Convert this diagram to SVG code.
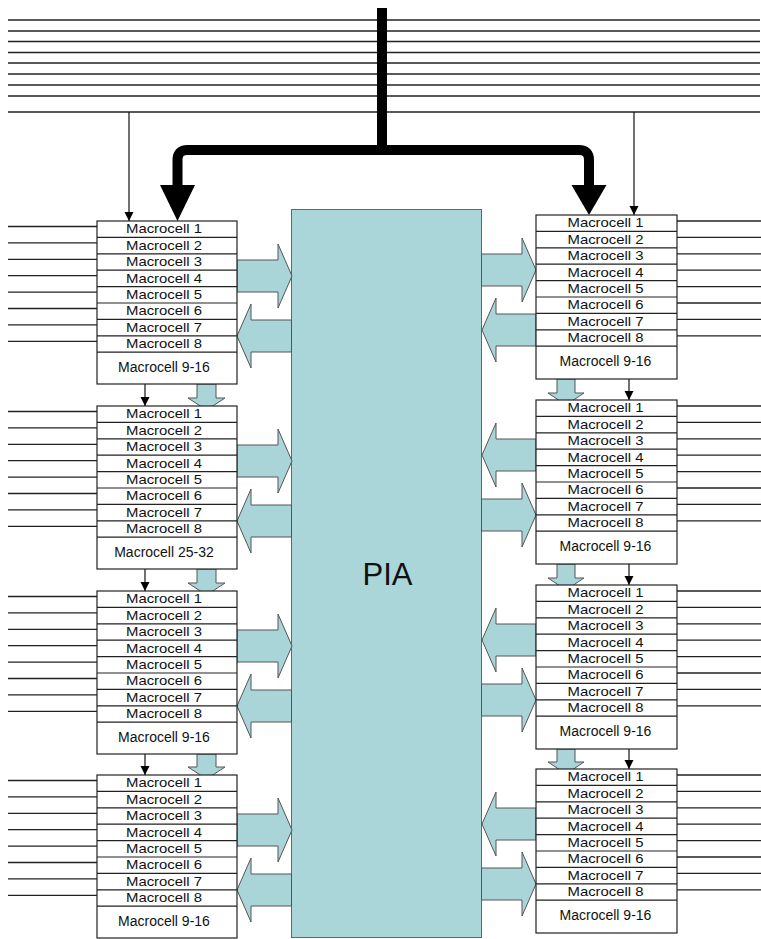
<svg xmlns="http://www.w3.org/2000/svg" width="761" height="939" viewBox="0 0 761 939">
<defs>
<style>
.bg{fill:#ffffff}
.ln{stroke:#222;stroke-width:1.3;fill:none}
.thin{stroke:#111;stroke-width:1.2;fill:none}
.bus{stroke:#000;stroke-width:10;fill:none}
.fat{fill:#a9d5d9;stroke:#555;stroke-width:1}
.blk{fill:#fff;stroke:#222;stroke-width:1.2}
.sep{stroke:#222;stroke-width:1.2}
.pia{fill:#aad6da;stroke:#666;stroke-width:1}
text{font-family:"Liberation Sans",Arial,sans-serif;fill:#111;text-anchor:middle}
.r{font-size:13px}
.f{font-size:14px}
.big{font-size:31px}
</style>
<marker id="ah" viewBox="0 0 10 10" refX="10" refY="5" markerWidth="9" markerHeight="10" orient="auto" markerUnits="userSpaceOnUse"><path d="M0,0 L10,5 L0,10 z" fill="#000"/></marker>
</defs>
<rect class="bg" x="0" y="0" width="761" height="939"/>

<g id="pia">
<rect class="pia" x="291.5" y="209.5" width="190" height="728"/>
<text class="big" x="387.5" y="585">PIA</text>
</g>

<g id="connectors">
<!-- top bus lines -->
<g class="ln">
<line x1="8" y1="20" x2="760" y2="20"/>
<line x1="8" y1="31" x2="760" y2="31"/>
<line x1="8" y1="41.5" x2="760" y2="41.5"/>
<line x1="8" y1="52.5" x2="760" y2="52.5"/>
<line x1="8" y1="63" x2="760" y2="63"/>
<line x1="8" y1="74" x2="760" y2="74"/>
<line x1="8" y1="85" x2="760" y2="85"/>
<line x1="8" y1="96" x2="760" y2="96"/>
<line x1="8" y1="112" x2="760" y2="112"/>
</g>
<!-- thick bus -->
<path class="bus" d="M382,8 V150"/>
<path class="bus" d="M177.5,186 V160 Q177.5,150 187.5,150 H579 Q589,150 589,160 V186"/>
<polygon points="160,185 195,185 177.5,221" fill="#000"/>
<polygon points="571.5,185 606.5,185 589,215" fill="#000"/>
<!-- top thin drops -->
<line class="thin" x1="129" y1="112" x2="129" y2="221" marker-end="url(#ah)"/>
<line class="thin" x1="634" y1="112" x2="634" y2="215" marker-end="url(#ah)"/>

<!-- left side lines -->
<g class="ln">
<g transform="translate(0,221)">
<line x1="8" y1="5.5" x2="97" y2="5.5"/><line x1="8" y1="21.9" x2="97" y2="21.9"/><line x1="8" y1="38.3" x2="97" y2="38.3"/><line x1="8" y1="54.7" x2="97" y2="54.7"/><line x1="8" y1="71.1" x2="97" y2="71.1"/><line x1="8" y1="87.5" x2="97" y2="87.5"/><line x1="8" y1="103.9" x2="97" y2="103.9"/><line x1="8" y1="120.3" x2="97" y2="120.3"/>
</g>
<g transform="translate(0,406)">
<line x1="8" y1="5.5" x2="97" y2="5.5"/><line x1="8" y1="21.9" x2="97" y2="21.9"/><line x1="8" y1="38.3" x2="97" y2="38.3"/><line x1="8" y1="54.7" x2="97" y2="54.7"/><line x1="8" y1="71.1" x2="97" y2="71.1"/><line x1="8" y1="87.5" x2="97" y2="87.5"/><line x1="8" y1="103.9" x2="97" y2="103.9"/><line x1="8" y1="120.3" x2="97" y2="120.3"/>
</g>
<g transform="translate(0,591)">
<line x1="8" y1="5.5" x2="97" y2="5.5"/><line x1="8" y1="21.9" x2="97" y2="21.9"/><line x1="8" y1="38.3" x2="97" y2="38.3"/><line x1="8" y1="54.7" x2="97" y2="54.7"/><line x1="8" y1="71.1" x2="97" y2="71.1"/><line x1="8" y1="87.5" x2="97" y2="87.5"/><line x1="8" y1="103.9" x2="97" y2="103.9"/><line x1="8" y1="120.3" x2="97" y2="120.3"/>
</g>
<g transform="translate(0,775)">
<line x1="8" y1="5.5" x2="97" y2="5.5"/><line x1="8" y1="21.9" x2="97" y2="21.9"/><line x1="8" y1="38.3" x2="97" y2="38.3"/><line x1="8" y1="54.7" x2="97" y2="54.7"/><line x1="8" y1="71.1" x2="97" y2="71.1"/><line x1="8" y1="87.5" x2="97" y2="87.5"/><line x1="8" y1="103.9" x2="97" y2="103.9"/><line x1="8" y1="120.3" x2="97" y2="120.3"/>
</g>
<!-- right side lines -->
<g transform="translate(0,215)">
<line x1="677" y1="6" x2="761" y2="6"/><line x1="677" y1="22.4" x2="761" y2="22.4"/><line x1="677" y1="38.8" x2="761" y2="38.8"/><line x1="677" y1="55.2" x2="761" y2="55.2"/><line x1="677" y1="71.6" x2="761" y2="71.6"/><line x1="677" y1="88" x2="761" y2="88"/><line x1="677" y1="104.4" x2="761" y2="104.4"/><line x1="677" y1="120.8" x2="761" y2="120.8"/>
</g>
<g transform="translate(0,400)">
<line x1="677" y1="6" x2="761" y2="6"/><line x1="677" y1="22.4" x2="761" y2="22.4"/><line x1="677" y1="38.8" x2="761" y2="38.8"/><line x1="677" y1="55.2" x2="761" y2="55.2"/><line x1="677" y1="71.6" x2="761" y2="71.6"/><line x1="677" y1="88" x2="761" y2="88"/><line x1="677" y1="104.4" x2="761" y2="104.4"/><line x1="677" y1="120.8" x2="761" y2="120.8"/>
</g>
<g transform="translate(0,585)">
<line x1="677" y1="6" x2="761" y2="6"/><line x1="677" y1="22.4" x2="761" y2="22.4"/><line x1="677" y1="38.8" x2="761" y2="38.8"/><line x1="677" y1="55.2" x2="761" y2="55.2"/><line x1="677" y1="71.6" x2="761" y2="71.6"/><line x1="677" y1="88" x2="761" y2="88"/><line x1="677" y1="104.4" x2="761" y2="104.4"/><line x1="677" y1="120.8" x2="761" y2="120.8"/>
</g>
<g transform="translate(0,769)">
<line x1="677" y1="6" x2="761" y2="6"/><line x1="677" y1="22.4" x2="761" y2="22.4"/><line x1="677" y1="38.8" x2="761" y2="38.8"/><line x1="677" y1="55.2" x2="761" y2="55.2"/><line x1="677" y1="71.6" x2="761" y2="71.6"/><line x1="677" y1="88" x2="761" y2="88"/><line x1="677" y1="104.4" x2="761" y2="104.4"/><line x1="677" y1="120.8" x2="761" y2="120.8"/>
</g>
</g>

<!-- left fat arrows: block->PIA (upper), PIA->block (lower) -->
<g transform="translate(97,221)">
<polygon class="fat" points="140,39 181,39 181,23 195,55 181,87 181,71 140,71"/>
<polygon class="fat" points="140,115 154,83 154,99 194.5,99 194.5,131 154,131 154,147"/>
</g>
<g transform="translate(97,406)">
<polygon class="fat" points="140,39 181,39 181,23 195,55 181,87 181,71 140,71"/>
<polygon class="fat" points="140,115 154,83 154,99 194.5,99 194.5,131 154,131 154,147"/>
</g>
<g transform="translate(97,591)">
<polygon class="fat" points="140,39 181,39 181,23 195,55 181,87 181,71 140,71"/>
<polygon class="fat" points="140,115 154,83 154,99 194.5,99 194.5,131 154,131 154,147"/>
</g>
<g transform="translate(97,775)">
<polygon class="fat" points="140,39 181,39 181,23 195,55 181,87 181,71 140,71"/>
<polygon class="fat" points="140,115 154,83 154,99 194.5,99 194.5,131 154,131 154,147"/>
</g>

<!-- right fat arrows -->
<g transform="translate(536,215)">
<polygon class="fat" points="-54.5,39 -14,39 -14,23 0,55 -14,87 -14,71 -54.5,71"/>
<polygon class="fat" points="0,99 -40,99 -40,83 -54,115 -40,147 -40,131 0,131"/>
</g>
<g transform="translate(536,400)">
<polygon class="fat" points="0,39 -40,39 -40,23 -54,55 -40,87 -40,71 0,71"/>
<polygon class="fat" points="-54.5,99 -14,99 -14,83 0,115 -14,147 -14,131 -54.5,131"/>
</g>
<g transform="translate(536,585)">
<polygon class="fat" points="0,39 -40,39 -40,23 -54,55 -40,87 -40,71 0,71"/>
<polygon class="fat" points="-54.5,99 -14,99 -14,83 0,115 -14,147 -14,131 -54.5,131"/>
</g>
<g transform="translate(536,769)">
<polygon class="fat" points="0,39 -40,39 -40,23 -54,55 -40,87 -40,71 0,71"/>
<polygon class="fat" points="-54.5,99 -14,99 -14,83 0,115 -14,147 -14,131 -54.5,131"/>
</g>

<!-- left inter-block arrows -->
<polygon class="fat" points="197,384 216,384 216,398 225,398 206.5,410 188,398 197,398"/>
<polygon class="fat" points="197,569 216,569 216,583 225,583 206.5,595 188,583 197,583"/>
<polygon class="fat" points="197,754 216,754 216,767 225,767 206.5,779 188,767 197,767"/>
<line class="thin" x1="145" y1="384" x2="145" y2="406" marker-end="url(#ah)"/>
<line class="thin" x1="145" y1="569" x2="145" y2="591" marker-end="url(#ah)"/>
<line class="thin" x1="145" y1="754" x2="145" y2="775" marker-end="url(#ah)"/>
<!-- right inter-block arrows -->
<polygon class="fat" points="557,379 575,379 575,393 584,393 566,405 548,393 557,393"/>
<polygon class="fat" points="557,564 575,564 575,578 584,578 566,590 548,578 557,578"/>
<polygon class="fat" points="557,749 575,749 575,762 584,762 566,774 548,762 557,762"/>
<line class="thin" x1="629" y1="379" x2="629" y2="400" marker-end="url(#ah)"/>
<line class="thin" x1="629" y1="564" x2="629" y2="585" marker-end="url(#ah)"/>
<line class="thin" x1="629" y1="749" x2="629" y2="769" marker-end="url(#ah)"/>
</g>

<!-- left blocks -->
<g id="left-block-1" transform="translate(97,221)">
<rect class="blk" x="0" y="0" width="140" height="163"/>
<path class="sep" d="M0,16.4H140M0,32.8H140M0,49.2H140M0,65.6H140M0,82H140M0,98.4H140M0,114.8H140M0,131.2H140"/>
<text class="r" x="67" y="12.3" textLength="76" lengthAdjust="spacingAndGlyphs">Macrocell 1</text>
<text class="r" x="67" y="28.7" textLength="76" lengthAdjust="spacingAndGlyphs">Macrocell 2</text>
<text class="r" x="67" y="45.1" textLength="76" lengthAdjust="spacingAndGlyphs">Macrocell 3</text>
<text class="r" x="67" y="61.5" textLength="76" lengthAdjust="spacingAndGlyphs">Macrocell 4</text>
<text class="r" x="67" y="77.9" textLength="76" lengthAdjust="spacingAndGlyphs">Macrocell 5</text>
<text class="r" x="67" y="94.3" textLength="76" lengthAdjust="spacingAndGlyphs">Macrocell 6</text>
<text class="r" x="67" y="110.7" textLength="76" lengthAdjust="spacingAndGlyphs">Macrocell 7</text>
<text class="r" x="67" y="127.1" textLength="76" lengthAdjust="spacingAndGlyphs">Macrocell 8</text>
<text class="f" x="67" y="151">Macrocell 9-16</text>
</g>
<g id="left-block-2" transform="translate(97,406)">
<rect class="blk" x="0" y="0" width="140" height="163"/>
<path class="sep" d="M0,16.4H140M0,32.8H140M0,49.2H140M0,65.6H140M0,82H140M0,98.4H140M0,114.8H140M0,131.2H140"/>
<text class="r" x="67" y="12.3" textLength="76" lengthAdjust="spacingAndGlyphs">Macrocell 1</text>
<text class="r" x="67" y="28.7" textLength="76" lengthAdjust="spacingAndGlyphs">Macrocell 2</text>
<text class="r" x="67" y="45.1" textLength="76" lengthAdjust="spacingAndGlyphs">Macrocell 3</text>
<text class="r" x="67" y="61.5" textLength="76" lengthAdjust="spacingAndGlyphs">Macrocell 4</text>
<text class="r" x="67" y="77.9" textLength="76" lengthAdjust="spacingAndGlyphs">Macrocell 5</text>
<text class="r" x="67" y="94.3" textLength="76" lengthAdjust="spacingAndGlyphs">Macrocell 6</text>
<text class="r" x="67" y="110.7" textLength="76" lengthAdjust="spacingAndGlyphs">Macrocell 7</text>
<text class="r" x="67" y="127.1" textLength="76" lengthAdjust="spacingAndGlyphs">Macrocell 8</text>
<text class="f" x="67" y="151">Macrocell 25-32</text>
</g>
<g id="left-block-3" transform="translate(97,591)">
<rect class="blk" x="0" y="0" width="140" height="163"/>
<path class="sep" d="M0,16.4H140M0,32.8H140M0,49.2H140M0,65.6H140M0,82H140M0,98.4H140M0,114.8H140M0,131.2H140"/>
<text class="r" x="67" y="12.3" textLength="76" lengthAdjust="spacingAndGlyphs">Macrocell 1</text>
<text class="r" x="67" y="28.7" textLength="76" lengthAdjust="spacingAndGlyphs">Macrocell 2</text>
<text class="r" x="67" y="45.1" textLength="76" lengthAdjust="spacingAndGlyphs">Macrocell 3</text>
<text class="r" x="67" y="61.5" textLength="76" lengthAdjust="spacingAndGlyphs">Macrocell 4</text>
<text class="r" x="67" y="77.9" textLength="76" lengthAdjust="spacingAndGlyphs">Macrocell 5</text>
<text class="r" x="67" y="94.3" textLength="76" lengthAdjust="spacingAndGlyphs">Macrocell 6</text>
<text class="r" x="67" y="110.7" textLength="76" lengthAdjust="spacingAndGlyphs">Macrocell 7</text>
<text class="r" x="67" y="127.1" textLength="76" lengthAdjust="spacingAndGlyphs">Macrocell 8</text>
<text class="f" x="67" y="151">Macrocell 9-16</text>
</g>
<g id="left-block-4" transform="translate(97,775)">
<rect class="blk" x="0" y="0" width="140" height="163"/>
<path class="sep" d="M0,16.4H140M0,32.8H140M0,49.2H140M0,65.6H140M0,82H140M0,98.4H140M0,114.8H140M0,131.2H140"/>
<text class="r" x="67" y="12.3" textLength="76" lengthAdjust="spacingAndGlyphs">Macrocell 1</text>
<text class="r" x="67" y="28.7" textLength="76" lengthAdjust="spacingAndGlyphs">Macrocell 2</text>
<text class="r" x="67" y="45.1" textLength="76" lengthAdjust="spacingAndGlyphs">Macrocell 3</text>
<text class="r" x="67" y="61.5" textLength="76" lengthAdjust="spacingAndGlyphs">Macrocell 4</text>
<text class="r" x="67" y="77.9" textLength="76" lengthAdjust="spacingAndGlyphs">Macrocell 5</text>
<text class="r" x="67" y="94.3" textLength="76" lengthAdjust="spacingAndGlyphs">Macrocell 6</text>
<text class="r" x="67" y="110.7" textLength="76" lengthAdjust="spacingAndGlyphs">Macrocell 7</text>
<text class="r" x="67" y="127.1" textLength="76" lengthAdjust="spacingAndGlyphs">Macrocell 8</text>
<text class="f" x="67" y="151">Macrocell 9-16</text>
</g>

<!-- right blocks -->
<g id="right-block-1" transform="translate(536,215)">
<rect class="blk" x="0" y="0" width="141" height="164"/>
<path class="sep" d="M0,16.4H141M0,32.8H141M0,49.2H141M0,65.6H141M0,82H141M0,98.4H141M0,114.8H141M0,131.2H141"/>
<text class="r" x="69.5" y="12.3" textLength="76" lengthAdjust="spacingAndGlyphs">Macrocell 1</text>
<text class="r" x="69.5" y="28.7" textLength="76" lengthAdjust="spacingAndGlyphs">Macrocell 2</text>
<text class="r" x="69.5" y="45.1" textLength="76" lengthAdjust="spacingAndGlyphs">Macrocell 3</text>
<text class="r" x="69.5" y="61.5" textLength="76" lengthAdjust="spacingAndGlyphs">Macrocell 4</text>
<text class="r" x="69.5" y="77.9" textLength="76" lengthAdjust="spacingAndGlyphs">Macrocell 5</text>
<text class="r" x="69.5" y="94.3" textLength="76" lengthAdjust="spacingAndGlyphs">Macrocell 6</text>
<text class="r" x="69.5" y="110.7" textLength="76" lengthAdjust="spacingAndGlyphs">Macrocell 7</text>
<text class="r" x="69.5" y="127.1" textLength="76" lengthAdjust="spacingAndGlyphs">Macrocell 8</text>
<text class="f" x="69.5" y="151">Macrocell 9-16</text>
</g>
<g id="right-block-2" transform="translate(536,400)">
<rect class="blk" x="0" y="0" width="141" height="164"/>
<path class="sep" d="M0,16.4H141M0,32.8H141M0,49.2H141M0,65.6H141M0,82H141M0,98.4H141M0,114.8H141M0,131.2H141"/>
<text class="r" x="69.5" y="12.3" textLength="76" lengthAdjust="spacingAndGlyphs">Macrocell 1</text>
<text class="r" x="69.5" y="28.7" textLength="76" lengthAdjust="spacingAndGlyphs">Macrocell 2</text>
<text class="r" x="69.5" y="45.1" textLength="76" lengthAdjust="spacingAndGlyphs">Macrocell 3</text>
<text class="r" x="69.5" y="61.5" textLength="76" lengthAdjust="spacingAndGlyphs">Macrocell 4</text>
<text class="r" x="69.5" y="77.9" textLength="76" lengthAdjust="spacingAndGlyphs">Macrocell 5</text>
<text class="r" x="69.5" y="94.3" textLength="76" lengthAdjust="spacingAndGlyphs">Macrocell 6</text>
<text class="r" x="69.5" y="110.7" textLength="76" lengthAdjust="spacingAndGlyphs">Macrocell 7</text>
<text class="r" x="69.5" y="127.1" textLength="76" lengthAdjust="spacingAndGlyphs">Macrocell 8</text>
<text class="f" x="69.5" y="151">Macrocell 9-16</text>
</g>
<g id="right-block-3" transform="translate(536,585)">
<rect class="blk" x="0" y="0" width="141" height="164"/>
<path class="sep" d="M0,16.4H141M0,32.8H141M0,49.2H141M0,65.6H141M0,82H141M0,98.4H141M0,114.8H141M0,131.2H141"/>
<text class="r" x="69.5" y="12.3" textLength="76" lengthAdjust="spacingAndGlyphs">Macrocell 1</text>
<text class="r" x="69.5" y="28.7" textLength="76" lengthAdjust="spacingAndGlyphs">Macrocell 2</text>
<text class="r" x="69.5" y="45.1" textLength="76" lengthAdjust="spacingAndGlyphs">Macrocell 3</text>
<text class="r" x="69.5" y="61.5" textLength="76" lengthAdjust="spacingAndGlyphs">Macrocell 4</text>
<text class="r" x="69.5" y="77.9" textLength="76" lengthAdjust="spacingAndGlyphs">Macrocell 5</text>
<text class="r" x="69.5" y="94.3" textLength="76" lengthAdjust="spacingAndGlyphs">Macrocell 6</text>
<text class="r" x="69.5" y="110.7" textLength="76" lengthAdjust="spacingAndGlyphs">Macrocell 7</text>
<text class="r" x="69.5" y="127.1" textLength="76" lengthAdjust="spacingAndGlyphs">Macrocell 8</text>
<text class="f" x="69.5" y="151">Macrocell 9-16</text>
</g>
<g id="right-block-4" transform="translate(536,769)">
<rect class="blk" x="0" y="0" width="141" height="164"/>
<path class="sep" d="M0,16.4H141M0,32.8H141M0,49.2H141M0,65.6H141M0,82H141M0,98.4H141M0,114.8H141M0,131.2H141"/>
<text class="r" x="69.5" y="12.3" textLength="76" lengthAdjust="spacingAndGlyphs">Macrocell 1</text>
<text class="r" x="69.5" y="28.7" textLength="76" lengthAdjust="spacingAndGlyphs">Macrocell 2</text>
<text class="r" x="69.5" y="45.1" textLength="76" lengthAdjust="spacingAndGlyphs">Macrocell 3</text>
<text class="r" x="69.5" y="61.5" textLength="76" lengthAdjust="spacingAndGlyphs">Macrocell 4</text>
<text class="r" x="69.5" y="77.9" textLength="76" lengthAdjust="spacingAndGlyphs">Macrocell 5</text>
<text class="r" x="69.5" y="94.3" textLength="76" lengthAdjust="spacingAndGlyphs">Macrocell 6</text>
<text class="r" x="69.5" y="110.7" textLength="76" lengthAdjust="spacingAndGlyphs">Macrocell 7</text>
<text class="r" x="69.5" y="127.1" textLength="76" lengthAdjust="spacingAndGlyphs">Macrocell 8</text>
<text class="f" x="69.5" y="151">Macrocell 9-16</text>
</g>
</svg>
